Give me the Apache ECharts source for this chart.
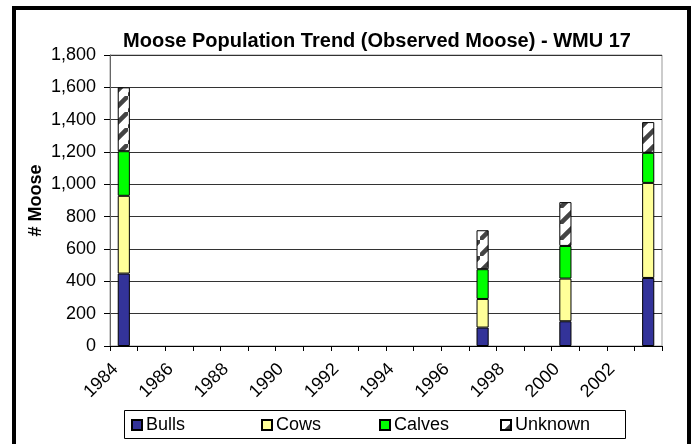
<!DOCTYPE html>
<html>
<head>
<meta charset="utf-8">
<script src="https://cdn.jsdelivr.net/npm/echarts@6/dist/echarts.min.js"></script>
<style>
  html, body { margin: 0; padding: 0; background: #ffffff; }
  #chart { width: 695px; height: 444px; }
</style>
</head>
<body>
<div id="chart"></div>
<script>
// 年份类目 1984 - 2003
const years = ['1984', '1985', '1986', '1987', '1988', '1989', '1990', '1991', '1992', '1993',
  '1994', '1995', '1996', '1997', '1998', '1999', '2000', '2001', '2002', '2003']
// 只有 1984, 1997, 2000, 2003 有调查数据
const bulls   = [448, '-', '-', '-', '-', '-', '-', '-', '-', '-', '-', '-', '-', 114, '-', '-', 153, '-', '-', 421]
const cows    = [481, '-', '-', '-', '-', '-', '-', '-', '-', '-', '-', '-', '-', 177, '-', '-', 264, '-', '-', 588]
const calves  = [276, '-', '-', '-', '-', '-', '-', '-', '-', '-', '-', '-', '-', 184, '-', '-', 202, '-', '-', 186]
const unknown = [395, '-', '-', '-', '-', '-', '-', '-', '-', '-', '-', '-', '-', 241, '-', '-', 271, '-', '-', 190]

const FONT = 'Liberation Sans, Arial, sans-serif'

// 斜线填充
const makeHatch = () => {
  const size = 16
  const cv = document.createElement('canvas')
  cv.width = size
  cv.height = size
  const ctx = cv.getContext('2d')
  ctx.fillStyle = '#ffffff'
  ctx.fillRect(0, 0, size, size)
  ctx.strokeStyle = '#444444'
  ctx.lineWidth = 4.5
  ctx.beginPath()
  ctx.moveTo(-4, size + 4); ctx.lineTo(size + 4, -4)
  ctx.moveTo(-4 - size, 4); ctx.lineTo(4, -4 - size)
  ctx.moveTo(size - 4, 2 * size + 4); ctx.lineTo(2 * size + 4, size - 4)
  ctx.stroke()
  return cv
}

const chart = echarts.init(document.getElementById('chart'))

const barStyle = (color) => ({
  color: color,
  borderColor: '#000000',
  borderWidth: 1,
})

const legendAt = (name, left) => ({
  data: [name],
  left: left,
  top: 416,
  icon: 'rect',
  itemWidth: 10,
  itemHeight: 10,
  itemGap: 0,
  padding: 0,
  selectedMode: false,
  textStyle: { fontFamily: FONT, fontSize: 18, color: '#000000', padding: [0, 0, 0, -1] },
})

chart.setOption({
  animation: false,
  title: {
    text: 'Moose Population Trend (Observed Moose) - WMU 17',
    left: 377,
    textAlign: 'center',
    top: 31,
    padding: 0,
    textStyle: { fontFamily: FONT, fontSize: 20, fontWeight: 'bold', color: '#000000' },
  },
  legend: [
    legendAt('Bulls', 131),
    legendAt('Cows', 261),
    legendAt('Calves', 379),
    legendAt('Unknown', 500),
  ],
  grid: {
    left: 110,
    right: 33,
    top: 55,
    bottom: 98,
    show: true,
    borderColor: '#999999',
    borderWidth: 1,
    backgroundColor: 'transparent',
  },
  xAxis: {
    type: 'category',
    data: years,
    boundaryGap: true,
    axisLine: { show: true, lineStyle: { color: '#000000', width: 1 } },
    axisTick: { show: true, interval: 0, length: 5, lineStyle: { color: '#000000' } },
    axisLabel: {
      interval: 1,
      rotate: 45,
      margin: 12,
      padding: [0, 12, 0, 0],
      fontFamily: FONT,
      fontSize: 18,
      color: '#000000',
    },
    splitLine: { show: false },
  },
  yAxis: {
    type: 'value',
    min: 0,
    max: 1800,
    interval: 200,
    name: '# Moose',
    nameLocation: 'middle',
    nameGap: 65,
    nameMoveOverlap: false,
    nameTextStyle: { fontFamily: FONT, fontSize: 18, fontWeight: 'bold', color: '#000000' },
    axisLine: { show: true, lineStyle: { color: '#666666', width: 1 } },
    axisTick: { show: true, length: 6, lineStyle: { color: '#000000' } },
    axisLabel: {
      fontFamily: FONT,
      fontSize: 18,
      color: '#000000',
      margin: 14,
      formatter: (v) => v.toLocaleString('en-US'),
    },
    splitLine: { show: true, lineStyle: { color: '#333333', width: 1 } },
  },
  series: [
    { name: 'Bulls', type: 'bar', stack: 'moose', data: bulls, barWidth: '44%', itemStyle: barStyle('#333399') },
    { name: 'Cows', type: 'bar', stack: 'moose', data: cows, barWidth: '44%', itemStyle: barStyle('#ffff99') },
    { name: 'Calves', type: 'bar', stack: 'moose', data: calves, barWidth: '44%', itemStyle: barStyle('#00ff00') },
    {
      name: 'Unknown', type: 'bar', stack: 'moose', data: unknown, barWidth: '44%',
      itemStyle: barStyle({ image: makeHatch(), repeat: 'repeat' }),
    },
  ],
  graphic: [
    {
      type: 'rect',
      shape: { x: 14, y: 8, width: 675, height: 460 },
      style: { fill: 'none', stroke: '#000000', lineWidth: 4 },
      silent: true,
    },
    {
      type: 'rect',
      shape: { x: 124.5, y: 410.5, width: 501, height: 28 },
      style: { fill: 'none', stroke: '#000000', lineWidth: 1 },
      silent: true,
    },
  ],
})
</script>
</body>
</html>
